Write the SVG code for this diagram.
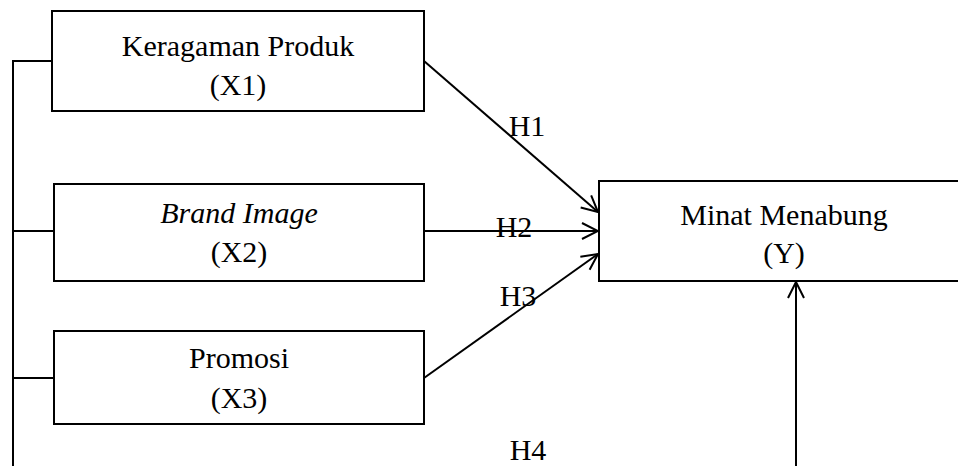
<svg xmlns="http://www.w3.org/2000/svg" width="958" height="466" viewBox="0 0 958 466">
<style>
.box{fill:#fff;stroke:#000;stroke-width:2}
.ln{fill:none;stroke:#000;stroke-width:2}
text{font-family:"Liberation Serif","Times New Roman",serif;font-size:30px;fill:#000;text-anchor:middle}
</style>
<defs>
<marker id="arr" viewBox="0 0 20 20" refX="18" refY="10" markerWidth="20" markerHeight="20" markerUnits="userSpaceOnUse" orient="auto">
<path d="M2,2 L18,10 L2,18" fill="none" stroke="#000" stroke-width="2"/>
</marker>
</defs>
<rect width="958" height="466" fill="#fff"/>
<g id="connectors">
<path class="ln" d="M13,466 V61 H52 M13,231 H54 M13,378 H54"/>
<line class="ln" x1="424" y1="61" x2="598" y2="212" marker-end="url(#arr)"/>
<line class="ln" x1="424" y1="231" x2="598" y2="231" marker-end="url(#arr)"/>
<line class="ln" x1="424" y1="378" x2="598" y2="254" marker-end="url(#arr)"/>
<line class="ln" x1="796" y1="466" x2="796" y2="282" marker-end="url(#arr)"/>
<text x="527" y="136">H1</text>
<text x="514" y="237">H2</text>
<text x="518" y="306">H3</text>
<text x="528" y="460">H4</text>
</g>
<g id="x1">
<rect class="box" x="52" y="11" width="372" height="100"/>
<text x="238" y="56">Keragaman Produk</text>
<text x="238" y="95">(X1)</text>
</g>
<g id="x2">
<rect class="box" x="54" y="184" width="370" height="97"/>
<text x="239" y="223" font-style="italic">Brand Image</text>
<text x="239" y="262">(X2)</text>
</g>
<g id="x3">
<rect class="box" x="54" y="331" width="370" height="93"/>
<text x="239" y="368">Promosi</text>
<text x="239" y="408">(X3)</text>
</g>
<g id="y">
<rect class="box" x="599" y="181" width="370" height="100"/>
<text x="784" y="225">Minat Menabung</text>
<text x="784" y="263">(Y)</text>
</g>
</svg>
